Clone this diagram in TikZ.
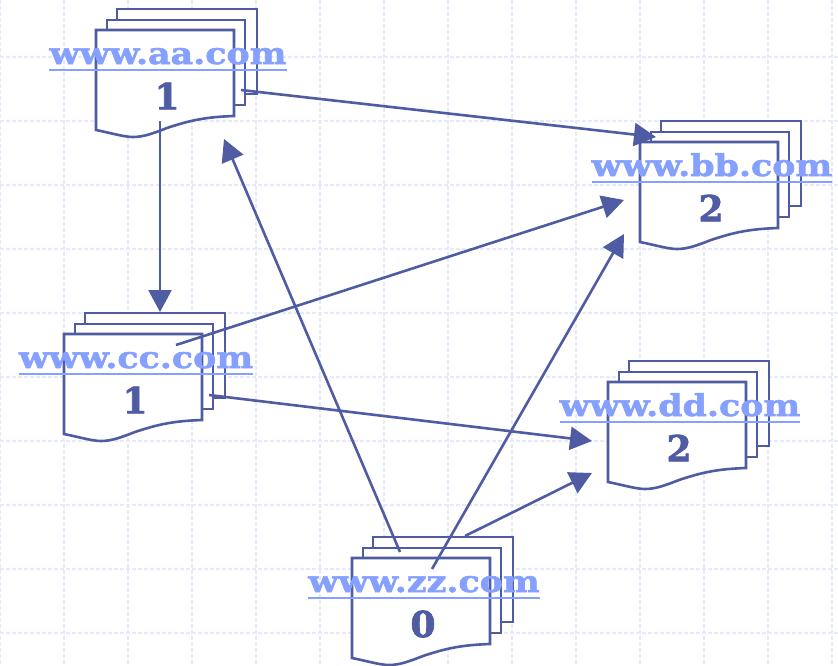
\documentclass[tikz,border=0pt]{standalone}
\usepackage{fontspec}
\usepackage{tikz}
\usetikzlibrary{arrows.meta}
\newfontfamily\urlfont[FakeStretch=1.16,FakeBold=2]{DejaVu Serif Bold}
\newfontfamily\rankfont[FakeBold=2]{DejaVu Serif Bold}
\definecolor{inkblue}{HTML}{4F5BA3}
\definecolor{urlblue}{HTML}{85A0FF}
\definecolor{gridblue}{HTML}{E4E9FC}
\tikzset{
  gridline/.style={gridblue,line width=1.2pt,dash pattern=on 4pt off 2pt},
  pagebox/.style={draw=inkblue,fill=white,line width=2.6pt},
  urltext/.style={urlblue,font=\urlfont\fontsize{30}{30}\selectfont,inner sep=0pt,anchor=base},
  urlline/.style={urlblue,line width=2.2pt},
  ranktext/.style={inkblue,font=\rankfont\fontsize{36}{36}\selectfont,inner sep=0pt},
  linkarrow/.style={draw=inkblue,line width=2.6pt,-{Triangle[length=22pt,width=23pt]}},
}
% stack of three pages: name, left, top, url, rank
\newcommand{\webpage}[5]{
  \begin{scope}[shift={(#2,#3)}]
    \draw[pagebox] (21,-21) rectangle (161,64);
    \draw[pagebox] (11,-10) rectangle (149,75);
    \draw[pagebox] (0,0) -- (138,0) -- (138,86)
      .. controls (110,87) and (95,90) .. (71,98)
      .. controls (58,103) and (48,107) .. (37,107)
      .. controls (28,107) and (15,103) .. (0,100) -- cycle;
    \node[urltext] (#1) at (72,34) {#4};
    \draw[urlline] ([yshift=-6pt]#1.base west) -- ([yshift=-6pt]#1.base east);
    \node[ranktext] (#1rank) at (71,66) {#5};
  \end{scope}
}
\begin{document}
\begin{tikzpicture}[x=1pt,y=-1pt]
\useasboundingbox (0,0) rectangle (838,665);

% grid
\foreach \x in {0,64,...,832} {
  \draw[gridline] (\x,0) -- (\x,665);
}
\foreach \y in {57,121,...,633} {
  \draw[gridline] (0,\y) -- (838,\y);
}

\webpage{aa}{96}{30}{www.aa.com}{1}
\webpage{bb}{640}{142}{www.bb.com}{2}
\webpage{cc}{64}{334}{www.cc.com}{1}
\webpage{dd}{608}{382}{www.dd.com}{2}
\webpage{zz}{352}{558}{www.zz.com}{0}

% link ends
\coordinate (aaright) at (241,90);
\coordinate (aadown) at (160,121);
\coordinate (aain) at (224,139);
\coordinate (bbtop) at (656,137);
\coordinate (bbmid) at (624,200);
\coordinate (bblow) at (624,234);
\coordinate (ccup) at (160,312);
\coordinate (ccleft) at (176,345);
\coordinate (ccright) at (209,395);
\coordinate (ddmid) at (592,441);
\coordinate (ddlow) at (592,473);
\coordinate (zzleft) at (400,552);
\coordinate (zzmid) at (432,569);
\coordinate (zzright) at (465,536);

\draw[linkarrow] (aaright) -- (bbtop);
\draw[linkarrow] (aadown) -- (ccup);
\draw[linkarrow] (ccleft) -- (bbmid);
\draw[linkarrow] (ccright) -- (ddmid);
\draw[linkarrow] (zzleft) -- (aain);
\draw[linkarrow] (zzmid) -- (bblow);
\draw[linkarrow] (zzright) -- (ddlow);
\end{tikzpicture}
\end{document}
